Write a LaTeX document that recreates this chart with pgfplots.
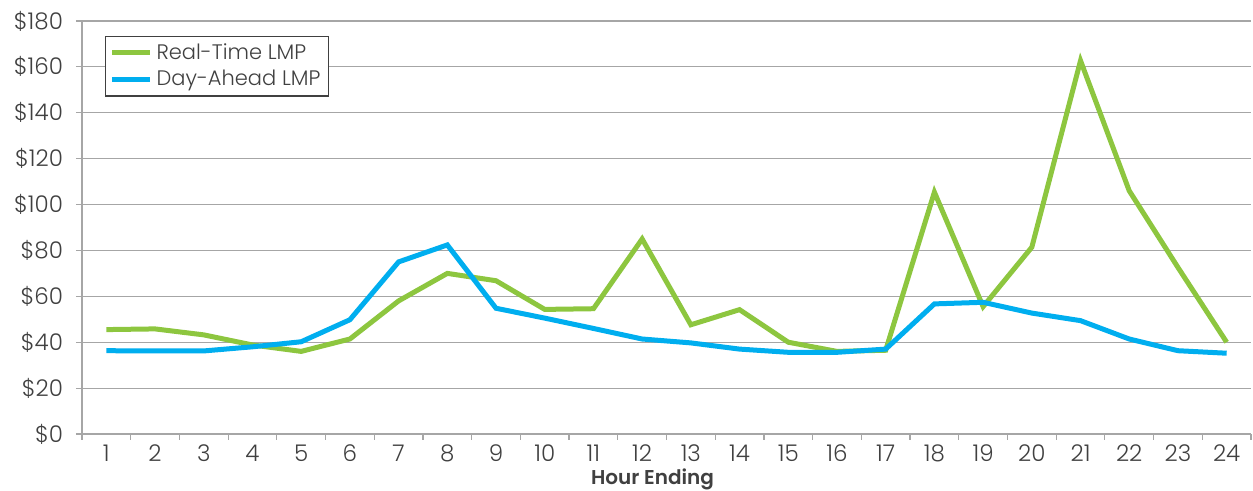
\documentclass[border=0pt]{standalone}
\usepackage{fontspec}
\setmainfont{Poppins}[UprightFont=* Light, BoldFont=* SemiBold]
\usepackage{pgfplots}
\pgfplotsset{compat=1.18}
\definecolor{rtgreen}{HTML}{8DC63F}
\definecolor{dablue}{HTML}{00AEEF}
\definecolor{gridgray}{HTML}{A6A6A6}
\definecolor{txtgray}{HTML}{404040}
\begin{document}
\begin{tikzpicture}
\begin{axis}[
  scale only axis,
  width=584.5pt, height=206.5pt,
  xmin=0.5, xmax=24.5,
  ymin=0, ymax=180,
  axis x line*=bottom,
  axis y line*=left,
  axis line style={gridgray, line width=0.9pt},
  xtick={1,...,24},
  minor xtick={0.5,1.5,...,24.5},
  major x tick style={draw=none},
  minor x tick style={gridgray, line width=0.6pt},
  minor tick length=3pt,
  ytick={0,20,...,180},
  major y tick style={gridgray, line width=0.6pt},
  major tick length=3pt,
  tick align=outside,
  ymajorgrids,
  grid style={gridgray, line width=0.6pt},
  yticklabel={\$\pgfmathprintnumber{\tick}},
  /pgf/number format/assume math mode=true,
  ticklabel style={font=\fontsize{11.5}{13}\selectfont, text=txtgray},
  yticklabel style={xshift=-3pt},
  xticklabel style={yshift=1pt},
  xlabel={\textbf{Hour Ending}},
  xlabel style={font=\fontsize{10}{11}\selectfont\bfseries, text=txtgray, yshift=3.5pt, xshift=-7pt},
  legend style={
    at={(11.5pt,199pt)}, anchor=north west,
    draw=txtgray, line width=0.6pt,
    font=\fontsize{10.5}{12}\selectfont, text=txtgray,
    inner xsep=2pt, inner ysep=1.5pt,
    row sep=0pt,
  },
  legend cell align=left,
  legend image code/.code={\draw[#1, line width=2.5pt] (0pt,0pt) -- (19pt,0pt);},
  every axis plot/.append style={line width=2.5pt, line join=miter},
]
\addplot[rtgreen] coordinates {
  (1,45.5) (2,45.8) (3,43.2) (4,38.8) (5,36.0) (6,41.4)
  (7,58.0) (8,70.0) (9,66.8) (10,54.3) (11,54.6) (12,85.0)
  (13,47.6) (14,54.2) (15,40.0) (16,36.0) (17,36.5) (18,105.4)
  (19,55.5) (20,81.4) (21,162.7) (22,106.0) (23,72.6) (24,40.0)
};
\addlegendentry{Real-Time LMP}
\addplot[dablue] coordinates {
  (1,36.3) (2,36.2) (3,36.2) (4,38.0) (5,40.2) (6,49.8)
  (7,75.0) (8,82.4) (9,54.8) (10,50.5) (11,46.0) (12,41.4)
  (13,39.7) (14,37.0) (15,35.6) (16,35.6) (17,37.0) (18,56.7)
  (19,57.4) (20,52.7) (21,49.4) (22,41.4) (23,36.3) (24,35.2)
};
\addlegendentry{Day-Ahead LMP}
\end{axis}
% page margins around the plot area
\pgfresetboundingbox
\path[use as bounding box]
  ([xshift=-41pt,yshift=-28.5pt]current axis.south west)
  rectangle ([xshift=1pt,yshift=10.5pt]current axis.north east);
\end{tikzpicture}
\end{document}
